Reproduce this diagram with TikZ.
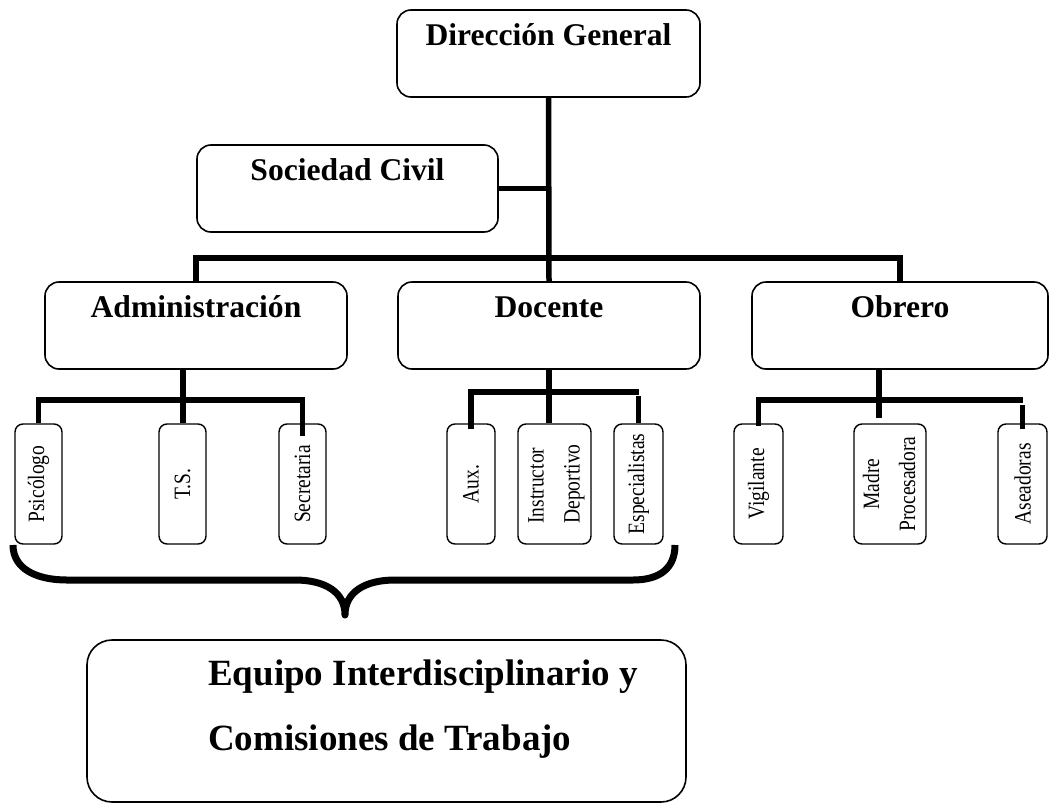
\documentclass[tikz,border=0pt]{standalone}
\usepackage{fontspec}
\setmainfont{Liberation Serif}
\usepackage{graphicx}
\newcommand\bxfont{\fontsize{31.6}{38}\selectfont\bfseries}
\newcommand\eqfont{\fontsize{37}{44}\selectfont\bfseries}
\newcommand\sxfont{\fontsize{19.5}{30}\selectfont}
\newcommand\vtxt[1]{\rotatebox{90}{\scalebox{1}[1.2]{#1}}}
\begin{document}
\begin{tikzpicture}[x=1pt,y=-1pt,
  conn/.style={line width=5.5pt, line join=miter},
  bigbox/.style={draw, line width=1.6pt, rounded corners=14pt, inner xsep=0pt, inner ysep=0pt, text height=35pt, text depth=52pt, font=\bxfont},
  smallbox/.style={draw, line width=1.4pt, rounded corners=8pt, inner sep=0pt, minimum height=120pt, font=\sxfont},
  eqtext/.style={anchor=base west, inner sep=0pt, font=\eqfont}
]
\fill[white] (0,0) rectangle (1049,806);
\useasboundingbox (0,0) rectangle (1049,806);

% level 0 / 1
\node[bigbox, minimum width=303pt] (dg) at (548.5,53.5) {Dirección General};
\node[bigbox, minimum width=301pt] (sc) at (347.5,188.5) {Sociedad Civil};
\node[bigbox, minimum width=302pt] (adm) at (196,325.5) {Administración};
\node[bigbox, minimum width=302pt] (doc) at (549,325.5) {Docente};
\node[bigbox, minimum width=296pt] (obr) at (900,325.5) {Obrero};

% small boxes
\node[smallbox, minimum width=47pt] (psi) at (38.5,484) {\vtxt{Psicólogo}};
\node[smallbox, minimum width=47pt] (ts) at (182.5,484) {\vtxt{T.S.}};
\node[smallbox, minimum width=47pt] (sec) at (302.5,484) {\vtxt{Secretaria}};
\node[smallbox, minimum width=48pt] (aux) at (471,484) {\vtxt{Aux.}};
\node[smallbox, minimum width=73pt] (ins) at (554.5,484) {\vtxt{\begin{tabular}{@{}l@{}}Instructor\\Deportivo\end{tabular}}};
\node[smallbox, minimum width=49pt] (esp) at (638.5,484) {\vtxt{Especialistas}};
\node[smallbox, minimum width=49pt] (vig) at (758.5,484) {\vtxt{Vigilante}};
\node[smallbox, minimum width=72pt] (mad) at (890,484) {\vtxt{\begin{tabular}{@{}c@{}}Madre\\Procesadora\end{tabular}}};
\node[smallbox, minimum width=49pt] (ase) at (1022.5,484) {\vtxt{Aseadoras}};

% bottom box
\node[draw, line width=1.6pt, rounded corners=25pt, minimum width=599pt, minimum height=162pt, inner sep=0pt] (eq) at (386.5,721) {};
\node[eqtext] (eq1) at (208,685) {Equipo Interdisciplinario y};
\node[eqtext] (eq2) at (208,750) {Comisiones de Trabajo};

% top connectors
\draw[conn] (dg.south) -- (doc.north);
\draw[conn] (sc.east) -- (sc.east -| dg.south);
\coordinate (bar) at (549,258);
\draw[conn] (adm.north) -- (adm.north |- bar) -- (obr.north |- bar) -- (obr.north);

% Administracion group
\coordinate (ja) at (183,400);
\draw[conn] (adm.south -| ja) -- (ja) -- (ts.north -| ja);
\draw[conn] (psi.north) -- (psi.north |- ja) -- (sec.north |- ja) -- ([yshift=-13pt]sec.north);

% Docente group
\coordinate (jd) at (549,392);
\draw[conn] (doc.south) -- (doc.south |- ins.north);
\draw[conn] ([yshift=-6pt]aux.north) -- (aux.north |- jd) -- (esp.north |- jd);
\draw[conn] ([yshift=-4pt]esp.north |- jd) -- (esp.north);

% Obrero group
\coordinate (jo) at (879,400);
\draw[conn] (obr.south -| jo) -- ([yshift=-18pt]jo);
\draw[conn] ([yshift=-3pt]vig.north) -- (vig.north |- jo) -- (ase.north |- jo);
\draw[conn] ([yshift=18pt]ase.north) -- ([yshift=-6pt]ase.north);

% brace
\draw[line width=7pt, line join=round]
  (13,545) .. controls (13,568) and (35,580) .. (67,580) -- (295,580)
  .. controls (325,580) and (345,592) .. (345,615)
  .. controls (345,592) and (365,580) .. (395,580) -- (633,580)
  .. controls (660,580) and (675,568) .. (675,545);
\end{tikzpicture}
\end{document}
